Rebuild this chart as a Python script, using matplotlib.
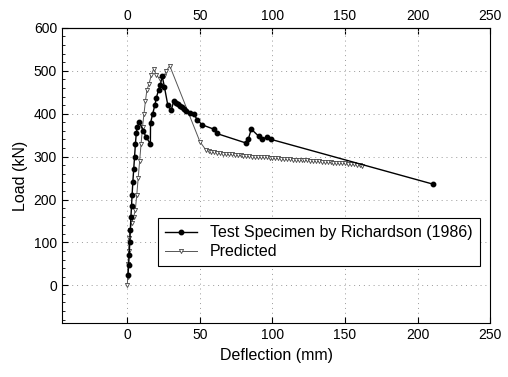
import matplotlib
matplotlib.use("Agg")
import matplotlib.pyplot as plt
from matplotlib.ticker import MultipleLocator

plt.rcParams['font.family'] = ['Liberation Sans', 'DejaVu Sans']

test_x = [0.5, 0.9, 1.3, 1.7, 2.1, 2.5, 2.9, 3.3, 3.8, 4.4, 5.0, 5.6, 6.2, 7.0, 8.3,
          11.0, 13.0, 15.9, 16.0, 17.5, 19.0, 20.0, 21.5, 22.8, 24.0, 25.6, 27.9,
          30.2, 32.0, 33.8, 35.0, 36.6, 38.0, 39.0, 40.5, 43.0, 45.8, 48.1, 51.6,
          59.6, 61.5, 81.5, 83.3, 85.4, 90.7, 93.0, 96.0, 99.2, 210.4]
test_y = [25, 47, 70, 100, 130, 160, 185, 210, 240, 270, 300, 330, 355, 370, 380,
          360, 345, 330, 378, 400, 420, 437, 455, 467, 488, 462, 420,
          408, 429, 425, 422, 418, 415, 412, 407, 402, 400, 386, 374,
          364, 354, 332, 340, 364, 347, 341, 345, 340, 236]

pred_x = [0, 0.3, 0.6, 0.9, 1.2, 1.8, 3.0, 4.4, 5.5, 6.5, 7.5, 8.5, 9.5, 10.5,
          11.5, 12.5, 13.5, 15.0, 16.5, 18.2, 20.0, 22.8, 25.0, 27.0, 29.2, 50.0,
          54, 56, 58, 60, 62, 64, 66, 68, 70, 72, 74, 76, 78, 80, 82, 84, 86, 88,
          90, 92, 94, 96, 98, 100, 102, 104, 106, 108, 110, 112, 114, 116, 118,
          120, 122, 124, 126, 128, 130, 132, 134, 136, 138, 140, 142, 144, 146,
          148, 150, 152, 154, 156, 158, 160, 162]
pred_y = [0, 20, 50, 80, 110, 130, 145, 160, 175, 210, 250, 290, 330, 370,
          400, 430, 455, 470, 490, 505, 490, 480, 487, 500, 512, 335,
          316, 313, 311, 310, 309, 308, 307, 306, 305, 305, 304, 303, 303, 302,
          302, 301, 300, 300, 299, 299, 298, 298, 297, 297, 296, 296, 295, 295,
          294, 294, 293, 293, 292, 292, 291, 291, 290, 290, 289, 289, 288, 288,
          287, 287, 286, 286, 285, 285, 284, 283, 283, 282, 281, 280, 279]

x_ticks = [0, 50, 100, 150, 200, 250]
y_ticks = [0, 100, 200, 300, 400, 500, 600]

fig = plt.figure(figsize=(5.08, 3.77), dpi=100)
ax = fig.add_axes([0.122, 0.143, 0.843, 0.783])

ax.plot(test_x, test_y, color='black', lw=1.0, marker='o', ms=3.2,
        mfc='black', mec='black', label='Test Specimen by Richardson (1986)', zorder=3)
ax.plot(pred_x, pred_y, color='#555555', lw=0.7, marker='v', ms=3.0,
        mfc='white', mec='#444444', mew=0.6, label='Predicted', zorder=2)

ax.set_xlim(-45, 250)
ax.set_ylim(-88, 600)
ax.set_xticks(x_ticks)
ax.set_yticks(y_ticks)
ax.yaxis.set_minor_locator(MultipleLocator(20))
ax.tick_params(direction='in', which='both', top=False, right=False,
               labelsize=10)
ax.tick_params(which='major', length=4)
ax.tick_params(which='minor', length=2)
ax.grid(True, which='major', linestyle=(0, (1, 4)), color='#999999', lw=0.7)

secx = ax.secondary_xaxis('top')
secx.set_xticks(x_ticks)
secx.tick_params(direction='in', labelsize=10, length=4)

ax.set_xlabel('Deflection (mm)', fontsize=11.5)
ax.set_ylabel('Load (kN)', fontsize=11.5)

leg = ax.legend(loc='upper left', bbox_to_anchor=(0.224, 0.356), fontsize=11.5,
                numpoints=1, fancybox=False, framealpha=1, edgecolor='black',
                handlelength=2.0, borderpad=0.45, labelspacing=0.25,
                borderaxespad=0)
leg.get_frame().set_linewidth(0.8)

fig.savefig('out.png', dpi=100)
